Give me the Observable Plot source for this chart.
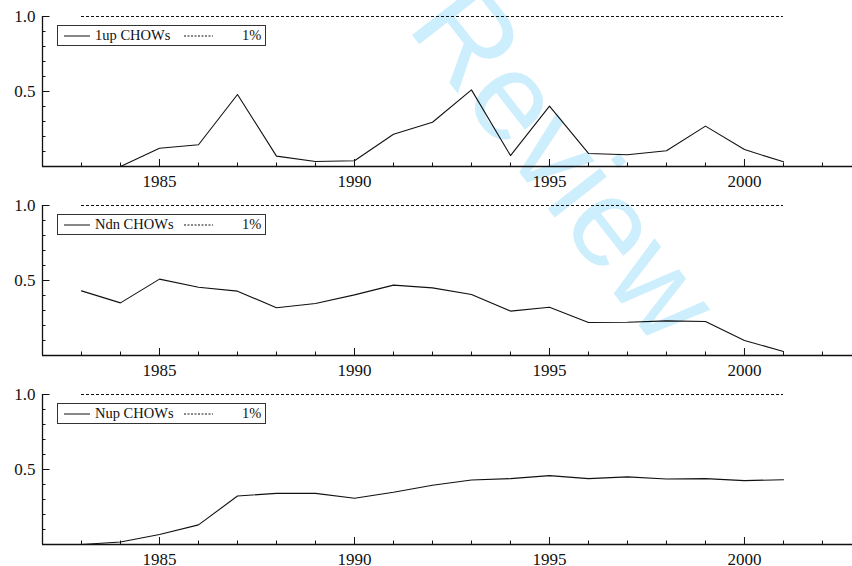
<!DOCTYPE html>
<html>
<head>
<meta charset="utf-8">
<script src="https://cdn.jsdelivr.net/npm/d3@7"></script>
<script src="https://cdn.jsdelivr.net/npm/@observablehq/plot@0.6"></script>
<style>
  html, body { margin: 0; padding: 0; background: white; }
  #page { position: relative; width: 852px; height: 566px; overflow: hidden; background: white; }
  #wm { position: absolute; left: 0; top: 0; font: 125px "Liberation Sans", Arial, sans-serif; line-height: 1;
        color: #cdeefc; white-space: nowrap; transform-origin: 0 0;
        transform: translate(406px, 27px) rotate(52deg) translate(0, -0.8465em); z-index: 0; }
  .panel { position: relative; width: 852px; z-index: 1; }
  .panel svg, .panel svg text { font-family: "Liberation Serif", "Times New Roman", serif !important; }
  .legend { position: absolute; left: 57px; top: 25px; width: 207px; height: 19px; border: 1px solid #333;
            font: 14.5px "Liberation Serif", serif; color: #111; }
  .legend span { position: absolute; top: 0; line-height: 19px; white-space: nowrap; }
  .legend svg { position: absolute; top: 0; }
</style>
</head>
<body>
<div id="page"><div id="wm">Review</div></div>
<script>
// ---- data ----
const years = [1983, 1984, 1985, 1986, 1987, 1988, 1989, 1990, 1991, 1992, 1993, 1994, 1995, 1996, 1997, 1998, 1999, 2000, 2001];
const upCHOWs  = [0.00, 0.00, 0.122, 0.145, 0.48, 0.069, 0.033, 0.038, 0.215, 0.295, 0.511, 0.073, 0.402, 0.087, 0.078, 0.105, 0.269, 0.113, 0.031];
const ndnCHOWs = [0.431, 0.351, 0.509, 0.455, 0.429, 0.318, 0.347, 0.404, 0.469, 0.451, 0.407, 0.296, 0.322, 0.22, 0.222, 0.231, 0.227, 0.10, 0.027];
const nupCHOWs = [0.00, 0.017, 0.067, 0.131, 0.323, 0.341, 0.341, 0.308, 0.348, 0.395, 0.430, 0.439, 0.459, 0.439, 0.451, 0.437, 0.439, 0.426, 0.432];
const seriesNames = ["1up CHOWs", "Ndn CHOWs", "Nup CHOWs"];
const seriesValues = [upCHOWs, ndnCHOWs, nupCHOWs];
const criticalLevel = 1.0;       // the 1% line
const criticalLabel = "1%";
const xTickLabels = [1985, 1990, 1995, 2000];
const xTickYears = [1983, 1984, 1985, 1986, 1987, 1988, 1989, 1990, 1991, 1992, 1993, 1994, 1995, 1996, 1997, 1998, 1999, 2000, 2001, 2002];
const yTickLabels = [0.5, 1.0];
const yTickValues = [0.1, 0.2, 0.3, 0.4, 0.5, 0.6, 0.7, 0.8, 0.9, 1.0];

const page = document.getElementById("page");
const heights = [189, 189, 188];
const x0 = 1982, x1 = 2002.77;
const pxPerYear = 39, pxPerUnit = 150;

seriesNames.forEach((name, i) => {
  const data = years.map((yr, j) => ({year: yr, value: seriesValues[i][j]}));
  const chart = Plot.plot({
    width: 852,
    height: heights[i],
    marginLeft: 42,
    marginRight: 0,
    marginTop: 16,
    marginBottom: heights[i] - 166,
    style: {background: "transparent", fontFamily: "'Liberation Serif', 'Times New Roman', serif", fontSize: "17px", color: "#111", overflow: "visible"},
    x: {domain: [x0, x1], ticks: xTickLabels, tickFormat: d => String(d), tickSize: 0, tickPadding: 8, label: null},
    y: {domain: [0, 1], ticks: yTickLabels, tickFormat: d => d.toFixed(1), tickSize: 0, tickPadding: 7, label: null},
    marks: [
      Plot.ruleY([0], {stroke: "#111", strokeWidth: 1.3}),
      Plot.ruleX([x0], {y1: 0, y2: 1, stroke: "#111", strokeWidth: 1.3}),
      Plot.ruleX(xTickYears, {y1: 0, y2: d => (xTickLabels.includes(d) ? 7 : 3.5) / pxPerUnit, stroke: "#111", strokeWidth: 1}),
      Plot.ruleY(yTickValues, {x1: x0, x2: d => x0 + (yTickLabels.includes(d) ? 7.5 : 3.5) / pxPerYear, stroke: "#111", strokeWidth: 1}),
      Plot.ruleY([criticalLevel], {x1: years[0], x2: years[years.length - 1], stroke: "#111", strokeWidth: 1, strokeDasharray: "3,2"}),
      Plot.line(data, {x: "year", y: "value", stroke: "#111", strokeWidth: 1.1})
    ]
  });
  const wrap = document.createElement("div");
  wrap.className = "panel";
  wrap.appendChild(chart);
  const leg = document.createElement("div");
  leg.className = "legend";
  leg.innerHTML =
    `<svg width="40" height="19" style="left:0"><line x1="6" x2="32" y1="10" y2="10" stroke="#111" stroke-width="1"/></svg>` +
    `<span style="left:37px">${name}</span>` +
    `<svg width="40" height="19" style="left:126px"><line x1="0" x2="29" y1="10" y2="10" stroke="#111" stroke-width="1" stroke-dasharray="2,1.5"/></svg>` +
    `<span style="left:184px">${criticalLabel}</span>`;
  wrap.appendChild(leg);
  page.appendChild(wrap);
});
</script>
</body>
</html>
